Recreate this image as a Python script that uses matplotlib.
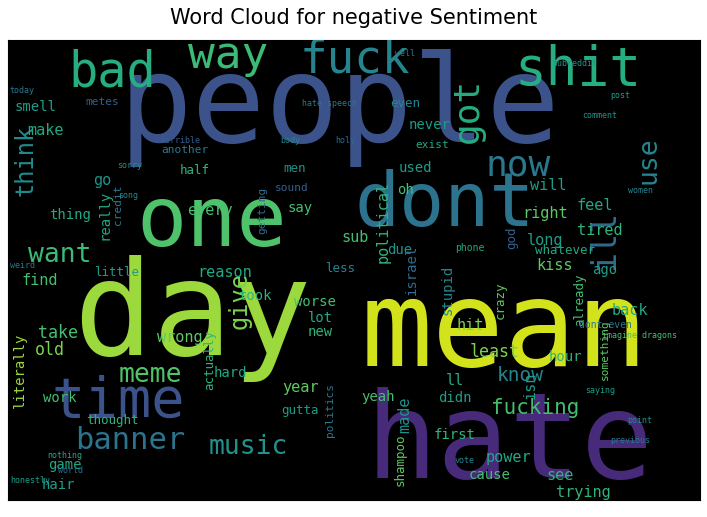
import matplotlib.pyplot as plt
from matplotlib import cm

# word cloud content: word, font size (pt), viridis shade, rotation
words = ["people", "day", "mean", "hate", "time", "one", "dont", "shit", "fuck", "way",
         "bad", "now", "got", "use", "ill", "think", "want", "give", "meme", "banner",
         "music", "fucking", "know", "smell", "metes", "make", "hate speech", "even", "never",
         "exist", "another", "half", "men", "sound", "say", "used", "oh", "right", "feel",
         "will", "long", "tired", "go", "really", "credit", "every", "getting", "thing",
         "political", "sub", "due", "god", "israel", "kiss", "ago", "stupid", "whatever",
         "find", "little", "reason", "less", "took", "worse", "lot", "new", "crazy", "hit",
         "already", "back", "dont even", "wrong", "actually", "take", "old", "hard", "least",
         "literally", "isn", "ll", "something", "hour", "didn", "work", "thought", "year",
         "gutta", "politics", "yeah", "first", "made", "shampoo", "power", "cause", "see",
         "trying", "game", "hair", "today", "horrible", "sorry", "song", "holy", "post",
         "comment", "phone", "women", "weird", "honestly", "world", "nothing", "vote",
         "point", "previous", "imagine dragons", "saying", "body", "subreddit", "well"]
sizes = [88, 95, 86, 86, 40, 60, 54, 38, 33, 32,
         35, 26, 26, 19, 24, 17, 19, 17, 19, 22,
         19, 15, 14, 10, 8, 11, 6, 9, 10,
         8, 8, 9, 9, 8, 10, 10, 10, 11, 11,
         11, 11, 11, 11, 10, 8, 11, 8, 10,
         11, 11, 10, 9, 10, 11, 10, 10, 9,
         11, 9, 11, 9, 10, 10, 10, 10, 9, 11,
         9, 11, 7, 11, 9, 12, 12, 10, 12,
         10, 11, 11, 8, 10, 10, 10, 9, 11,
         9, 8, 10, 10, 11, 9, 11, 10, 11,
         11, 10, 10, 6, 6, 6, 6, 6, 6,
         6, 7, 6, 6, 6, 6, 6, 6,
         6, 6, 6, 6, 6, 6, 6]
shades = [0.25, 0.85, 0.93, 0.12, 0.25, 0.72, 0.38, 0.62, 0.45, 0.68,
          0.62, 0.40, 0.62, 0.45, 0.35, 0.48, 0.68, 0.80, 0.72, 0.38,
          0.50, 0.70, 0.45, 0.55, 0.30, 0.60, 0.40, 0.45, 0.55,
          0.60, 0.40, 0.65, 0.50, 0.30, 0.70, 0.55, 0.70, 0.75, 0.60,
          0.55, 0.55, 0.65, 0.50, 0.60, 0.40, 0.70, 0.35, 0.60,
          0.65, 0.70, 0.50, 0.30, 0.35, 0.75, 0.55, 0.45, 0.60,
          0.70, 0.55, 0.60, 0.45, 0.65, 0.70, 0.60, 0.65, 0.75, 0.80,
          0.70, 0.60, 0.40, 0.75, 0.65, 0.70, 0.80, 0.60, 0.80,
          0.85, 0.55, 0.60, 0.75, 0.65, 0.55, 0.70, 0.65, 0.75,
          0.55, 0.40, 0.70, 0.65, 0.50, 0.75, 0.60, 0.70, 0.65,
          0.65, 0.60, 0.55, 0.40, 0.30, 0.50, 0.45, 0.35, 0.55,
          0.50, 0.60, 0.45, 0.40, 0.55, 0.35, 0.60, 0.45,
          0.50, 0.40, 0.70, 0.55, 0.45, 0.50, 0.40]
rotations = [0, 0, 0, 0, 0, 0, 0, 0, 0, 0,
             0, 0, 90, 90, 90, 90, 0, 90, 0, 0,
             0, 0, 0, 0, 0, 0, 0, 0, 0,
             0, 0, 0, 0, 0, 0, 0, 0, 0, 0,
             0, 0, 0, 0, 90, 90, 0, 90, 0,
             90, 0, 0, 90, 90, 0, 0, 90, 0,
             0, 0, 0, 0, 0, 0, 0, 0, 90, 0,
             90, 0, 0, 0, 90, 0, 0, 0, 0,
             90, 90, 0, 90, 0, 0, 0, 0, 0,
             0, 90, 0, 0, 90, 90, 0, 0, 0,
             0, 0, 0, 0, 0, 0, 0, 0, 0,
             0, 0, 0, 0, 0, 0, 0, 0,
             0, 0, 0, 0, 0, 0, 0]

# layout of the cloud, in pixel units of the canvas
xs = [340, 192, 505, 510, 118, 212, 445, 578, 355, 228,
      112, 518, 468, 648, 605, 25, 60, 240, 150, 130,
      248, 535, 520, 35, 102, 45, 330, 405, 430,
      432, 185, 195, 295, 292, 300, 415, 405, 545, 595,
      548, 545, 600, 102, 105, 118, 210, 262, 70,
      383, 355, 400, 512, 412, 555, 605, 448, 565,
      40, 117, 225, 340, 255, 315, 320, 320, 500, 470,
      580, 630, 605, 180, 210, 58, 50, 230, 495,
      20, 530, 455, 605, 565, 455, 60, 112, 300,
      300, 330, 378, 455, 405, 400, 508, 490, 560,
      583, 65, 58, 22, 180, 130, 128, 345, 620,
      600, 470, 640, 22, 30, 70, 65, 465,
      640, 630, 640, 600, 290, 575, 405]
ys = [108, 318, 333, 445, 402, 222, 205, 70, 60, 55,
      72, 165, 110, 160, 240, 160, 255, 300, 375, 440,
      447, 408, 375, 107, 102, 130, 103, 103, 125,
      145, 150, 170, 168, 188, 208, 168, 190, 213, 205,
      185, 240, 230, 180, 215, 205, 210, 210, 215,
      222, 237, 250, 238, 270, 265, 270, 290, 250,
      280, 272, 272, 268, 296, 302, 318, 332, 300, 325,
      300, 310, 325, 337, 360, 333, 350, 373, 352,
      370, 385, 380, 350, 357, 398, 398, 420, 387,
      410, 410, 397, 435, 415, 460, 457, 475, 475,
      492, 465, 485, 90, 140, 165, 195, 140, 95,
      115, 248, 190, 265, 480, 470, 455, 460,
      420, 440, 335, 390, 140, 63, 53]

fig = plt.figure(figsize=(7.07, 5.17), dpi=100)
ax = fig.add_axes([8 / 707, 17 / 517, 692 / 707, 460 / 517])
ax.set_facecolor('black')
ax.set_xlim(8, 700)
ax.set_ylim(500, 40)
ax.set_xticks([])
ax.set_yticks([])

for w, s, c, r, x, y in zip(words, sizes, shades, rotations, xs, ys):
    ax.text(x, y, w, fontsize=s, rotation=r, color=cm.viridis(c),
            ha='center', va='center', family='DejaVu Sans Mono', clip_on=True)

fig.suptitle('Word Cloud for negative Sentiment', fontsize=15, y=0.985)
fig.savefig('out.png', dpi=100)
